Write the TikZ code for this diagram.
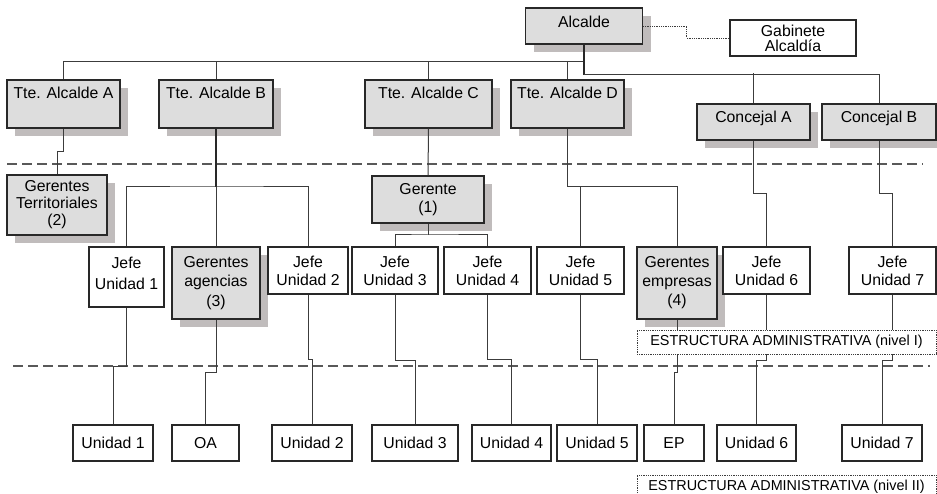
\documentclass[tikz,border=0pt]{standalone}
\usepackage{fontspec}
\setmainfont{Liberation Sans}
\usetikzlibrary{shadows}
\definecolor{boxgrey}{RGB}{221,221,221}
\definecolor{shadegrey}{RGB}{192,188,188}
\definecolor{edgecol}{RGB}{40,40,40}
\definecolor{wirecol}{RGB}{60,60,60}

\tikzset{
  base/.style={draw=edgecol, line width=1.1pt, inner sep=1pt, align=center,
    font=\fontsize{15.8}{18}\selectfont},
  greybox/.style={base, fill=boxgrey,
    general shadow={fill=shadegrey, shadow xshift=8pt, shadow yshift=-8pt}},
  whitebox/.style={base, fill=white},
  toptext/.style={anchor=north, inner sep=0pt, yshift=-7.7pt,
    font=\fontsize{15.8}{18}\selectfont},
  wire/.style={draw=wirecol, line width=1pt},
  heavy/.style={draw=edgecol, line width=1.8pt},
  separator/.style={draw=wirecol!85, line width=1.2pt, dash pattern=on 10pt off 5pt},
  dotline/.style={draw=wirecol, line width=0.9pt, dash pattern=on 0.9pt off 0.9pt},
  levelbox/.style={dotline, fill=white, inner sep=0pt,
    font=\fontsize{14.4}{16}\selectfont},
}

\begin{document}
\begin{tikzpicture}[x=1pt, y=-1pt]
\useasboundingbox (0,0) rectangle (937,494);

% level separators
\coordinate (s1a) at (7,164);   \coordinate (s1b) at (923,164);
\coordinate (s2a) at (13,366);  \coordinate (s2b) at (930,366);
\draw[separator] (s1a) -- (s1b);
\draw[separator] (s2a) -- (s2b);

% political level
\node[greybox, minimum width=117pt, minimum height=36pt,
  label={[toptext, yshift=-1pt]north:Alcalde}] (alc) at (584,26) {};
\node[whitebox, minimum width=126pt, minimum height=36pt,
  font=\fontsize{15.8}{15}\selectfont] (gab) at (793,38) {Gabinete\\Alcaldía};

\node[greybox, minimum width=113pt, minimum height=48pt,
  label={[toptext]north:Tte. Alcalde A}] (tA) at (63.5,104) {};
\node[greybox, minimum width=114pt, minimum height=48pt,
  label={[toptext]north:Tte. Alcalde B}] (tB) at (216,104) {};
\node[greybox, minimum width=127pt, minimum height=48pt,
  label={[toptext]north:Tte. Alcalde C}] (tC) at (428.5,104) {};
\node[greybox, minimum width=113pt, minimum height=48pt,
  label={[toptext]north:Tte. Alcalde D}] (tD) at (567.5,104) {};
\node[greybox, minimum width=113pt, minimum height=36pt,
  label={[toptext]north:Concejal A}] (cA) at (753.5,122) {};
\node[greybox, minimum width=114pt, minimum height=36pt,
  label={[toptext]north:Concejal B}] (cB) at (879,122) {};

% managers
\node[greybox, minimum width=100pt, minimum height=60pt,
  font=\fontsize{15.8}{17}\selectfont] (gt) at (57,205) {Gerentes\\Territoriales\\(2)};
\node[greybox, minimum width=112pt, minimum height=47pt] (ger) at (428,199.5) {Gerente\\(1)};

% administrative level I
\node[whitebox, minimum width=75pt, minimum height=60pt,
  font=\fontsize{15.8}{21}\selectfont] (j1) at (126.5,277) {Jefe\\Unidad 1\\[-13pt]};
\node[greybox, minimum width=88pt, minimum height=72pt,
  font=\fontsize{15.8}{19.5}\selectfont] (ga) at (216,283) {Gerentes\\agencias\\(3)};
\node[whitebox, minimum width=80pt, minimum height=47pt] (j2) at (308,270.5) {Jefe\\Unidad 2};
\node[whitebox, minimum width=86pt, minimum height=47pt] (j3) at (395,270.5) {Jefe\\Unidad 3};
\node[whitebox, minimum width=87pt, minimum height=47pt] (j4) at (487.5,270.5) {Jefe\\Unidad 4};
\node[whitebox, minimum width=87pt, minimum height=47pt] (j5) at (580.5,270.5) {Jefe\\Unidad 5};
\node[greybox, minimum width=80pt, minimum height=72pt,
  font=\fontsize{15.8}{19}\selectfont] (ge) at (677,283) {Gerentes\\empresas\\(4)};
\node[whitebox, minimum width=87pt, minimum height=47pt] (j6) at (766.5,270.5) {Jefe\\Unidad 6};
\node[whitebox, minimum width=87pt, minimum height=47pt] (j7) at (892.5,270.5) {Jefe\\Unidad 7};

% administrative level II
\node[whitebox, minimum width=80pt, minimum height=36pt] (u1) at (113,443) {Unidad 1};
\node[whitebox, minimum width=67pt, minimum height=36pt] (oa) at (205.5,443) {OA};
\node[whitebox, minimum width=80pt, minimum height=36pt] (u2) at (312,443) {Unidad 2};
\node[whitebox, minimum width=86pt, minimum height=36pt] (u3) at (415,443) {Unidad 3};
\node[whitebox, minimum width=79pt, minimum height=36pt] (u4) at (511.5,443) {Unidad 4};
\node[whitebox, minimum width=80pt, minimum height=36pt] (u5) at (597,443) {Unidad 5};
\node[whitebox, minimum width=60pt, minimum height=36pt] (ep) at (674,443) {EP};
\node[whitebox, minimum width=79pt, minimum height=36pt] (u6) at (756.5,443) {Unidad 6};
\node[whitebox, minimum width=80pt, minimum height=36pt] (u7) at (882,443) {Unidad 7};

% connectors: mayor to deputies and councillors
\draw[wire] (tA.north) -- ++(0,-18) -| (alc.south);
\draw[wire] (tB.north) -- ++(0,-18);
\draw[wire] (tC.north) -- ++(0,-18);
\draw[wire] (tD.north) -- ++(0,-18);
\draw[heavy] (alc.south) -- ++(0,30);
\draw[wire] (alc.south) ++(0,30) -| (cB.north);
\draw[wire] (cA.north) -- ++(0,-30);
\draw[dotline] (alc.east) -- ++(43.5,0) |- (gab.west);

% connectors: deputies to managers and unit heads
\draw[wire] (tA.south) -- ++(0,23) -| (gt.north);
\coordinate (bB) at (216,187);
\draw[heavy] (tB.south) -- (bB);
\draw[wire] (j1.north) |- (bB) -| (j2.north);
\draw[wire] (bB) -- (ga.north);
\draw[wire] (tC.south) -- (ger.north);
\coordinate (bC) at (428,235);
\draw[wire] (ger.south) -- (bC);
\draw[wire] (j3.north) |- (bC) -| (j4.north);
\coordinate (bD) at (567.5,187);
\draw[wire] (tD.south) -- (bD) -| (ge.north);
\draw[wire] (j5.north) -- (j5.north |- bD);
\draw[wire] (cA.south) -- ++(0,53) -| (j6.north);
\draw[wire] (cB.south) -- ++(0,53) -| (j7.north);

% connectors: level I to level II
\draw[wire] (j1.south) -- ++(0,59) -| (u1.north);
\draw[wire] (ga.south) -- ++(0,53) -| (oa.north);
\draw[wire] (j2.south) -- ++(0,65) -| (u2.north);
\draw[wire] (j3.south) -- ++(0,66) -| (u3.north);
\draw[wire] (j4.south) -- ++(0,65) -| (u4.north);
\draw[wire] (j5.south) -- ++(0,65) -| (u5.north);
\draw[wire] (ge.south) -- ++(0,53) -| (ep.north);
\draw[wire] (j6.south) -- ++(0,66) -| (u6.north);
\draw[wire] (j7.south) -- ++(0,66) -| (u7.north);

% level captions
\node[levelbox, minimum width=299pt, minimum height=24pt] (e1) at (786.5,342)
  {ESTRUCTURA ADMINISTRATIVA (nivel I)};
\node[levelbox, minimum width=299pt, minimum height=24pt] (e2) at (786.5,487)
  {ESTRUCTURA ADMINISTRATIVA (nivel II)};
\end{tikzpicture}
\end{document}
